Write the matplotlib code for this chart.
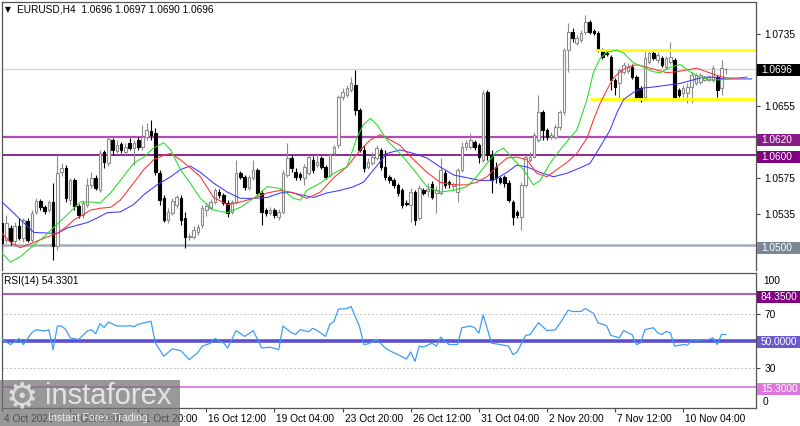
import numpy as np
import matplotlib
matplotlib.use('Agg')
import matplotlib.pyplot as plt
from matplotlib.transforms import blended_transform_factory, ScaledTranslation
from matplotlib.patches import Rectangle

plt.rcParams['font.family'] = ['Liberation Sans', 'DejaVu Sans']
FS = 7.3

# ---------------- data ----------------
opens = [1.0525,1.0506,1.0519,1.0504,1.0521,1.0508,1.0527,1.0506,1.0537,1.0549,
 1.0542,1.0539,1.0548,1.0499,1.0581,1.0586,1.0550,1.0572,1.0543,1.0533,
 1.0545,1.0567,1.0575,1.0561,1.0604,1.0591,1.0617,1.0605,1.0613,1.0604,
 1.0614,1.0608,1.0617,1.0609,1.0620,1.0627,1.0625,1.0580,1.0552,1.0528,
 1.0536,1.0545,1.0552,1.0530,1.0509,1.0509,1.0514,1.0522,1.0539,1.0541,
 1.0548,1.0559,1.0556,1.0547,1.0537,1.0548,1.0580,1.0576,1.0563,1.0575,
 1.0584,1.0558,1.0539,1.0536,1.0539,1.0531,1.0537,1.0578,1.0597,1.0581,
 1.0579,1.0575,1.0580,1.0595,1.0589,1.0597,1.0587,1.0578,1.0602,1.0611,
 1.0665,1.0667,1.0673,1.0678,1.0650,1.0606,1.0587,1.0591,1.0597,1.0606,
 1.0587,1.0576,1.0572,1.0567,1.0561,1.0547,1.0545,1.0559,1.0530,1.0561,
 1.0560,1.0568,1.0558,1.0558,1.0580,1.0570,1.0566,1.0559,1.0584,1.0609,
 1.0609,1.0615,1.0611,1.0595,1.0670,1.0600,1.0587,1.0575,1.0576,1.0569,
 1.0548,1.0537,1.0531,1.0567,1.0595,1.0598,1.0617,1.0648,1.0628,1.0620,
 1.0620,1.0631,1.0648,1.0717,1.0737,1.0725,1.0728,1.0737,1.0748,1.0738,
 1.0736,1.0717,1.0714,1.0709,1.0684,1.0680,1.0693,1.0694,1.0698,1.0687,
 1.0675,1.0665,1.0704,1.0714,1.0706,1.0708,1.0698,1.0704,1.0706,1.0673,
 1.0669,1.0669,1.0676,1.0680,1.0682,1.0684,1.0684,1.0684,1.0687,1.0675,
 1.0696]
highs = [1.0531,1.0533,1.0522,1.0526,1.0530,1.0530,1.0530,1.0539,1.0552,1.0551,
 1.0545,1.0550,1.0569,1.0600,1.0591,1.0589,1.0575,1.0575,1.0546,1.0550,
 1.0575,1.0581,1.0578,1.0606,1.0606,1.0620,1.0619,1.0617,1.0615,1.0614,
 1.0619,1.0617,1.0620,1.0634,1.0636,1.0639,1.0630,1.0584,1.0556,1.0541,
 1.0552,1.0556,1.0556,1.0537,1.0513,1.0521,1.0523,1.0545,1.0547,1.0551,
 1.0563,1.0562,1.0558,1.0550,1.0550,1.0595,1.0582,1.0578,1.0578,1.0595,
 1.0586,1.0561,1.0541,1.0542,1.0541,1.0540,1.0584,1.0614,1.0600,1.0586,
 1.0581,1.0590,1.0600,1.0599,1.0602,1.0599,1.0589,1.0602,1.0611,1.0667,
 1.0675,1.0678,1.0687,1.0695,1.0653,1.0611,1.0597,1.0604,1.0611,1.0608,
 1.0606,1.0578,1.0575,1.0569,1.0563,1.0550,1.0563,1.0561,1.0567,1.0563,
 1.0569,1.0571,1.0566,1.0597,1.0584,1.0572,1.0570,1.0586,1.0615,1.0617,
 1.0625,1.0617,1.0614,1.0673,1.0673,1.0606,1.0592,1.0577,1.0578,1.0572,
 1.0550,1.0539,1.0570,1.0600,1.0604,1.0626,1.0667,1.0650,1.0630,1.0626,
 1.0635,1.0650,1.0719,1.0747,1.0742,1.0734,1.0740,1.0756,1.0751,1.0741,
 1.0738,1.0719,1.0716,1.0712,1.0686,1.0697,1.0704,1.0703,1.0702,1.0689,
 1.0677,1.0717,1.0716,1.0716,1.0715,1.0711,1.0711,1.0726,1.0708,1.0675,
 1.0678,1.0680,1.0693,1.0692,1.0692,1.0688,1.0689,1.0701,1.0689,1.0706,
 1.0697]
lows = [1.0483,1.0502,1.0500,1.0501,1.0506,1.0503,1.0503,1.0503,1.0535,1.0539,
 1.0535,1.0537,1.0483,1.0494,1.0577,1.0548,1.0545,1.0539,1.0530,1.0530,
 1.0542,1.0563,1.0561,1.0559,1.0586,1.0588,1.0600,1.0602,1.0602,1.0600,
 1.0606,1.0589,1.0606,1.0606,1.0617,1.0617,1.0578,1.0545,1.0526,1.0525,
 1.0533,1.0541,1.0522,1.0497,1.0506,1.0507,1.0511,1.0519,1.0532,1.0539,
 1.0546,1.0552,1.0545,1.0531,1.0535,1.0546,1.0574,1.0561,1.0561,1.0572,
 1.0556,1.0522,1.0532,1.0533,1.0530,1.0528,1.0535,1.0576,1.0581,1.0572,
 1.0572,1.0567,1.0578,1.0580,1.0587,1.0585,1.0574,1.0576,1.0600,1.0608,
 1.0662,1.0665,1.0670,1.0645,1.0604,1.0581,1.0585,1.0589,1.0595,1.0584,
 1.0572,1.0569,1.0563,1.0555,1.0541,1.0543,1.0526,1.0522,1.0528,1.0556,
 1.0553,1.0551,1.0536,1.0556,1.0563,1.0563,1.0561,1.0548,1.0581,1.0606,
 1.0607,1.0606,1.0591,1.0592,1.0595,1.0558,1.0569,1.0568,1.0565,1.0548,
 1.0522,1.0530,1.0517,1.0565,1.0592,1.0597,1.0615,1.0617,1.0617,1.0618,
 1.0618,1.0628,1.0645,1.0693,1.0726,1.0723,1.0726,1.0735,1.0735,1.0734,
 1.0715,1.0707,1.0711,1.0673,1.0667,1.0664,1.0690,1.0692,1.0685,1.0662,
 1.0659,1.0663,1.0702,1.0706,1.0703,1.0698,1.0696,1.0702,1.0663,1.0665,
 1.0665,1.0658,1.0658,1.0678,1.0679,1.0683,1.0683,1.0682,1.0665,1.0667,
 1.0690]
closes = [1.0502,1.0525,1.0504,1.0521,1.0508,1.0528,1.0506,1.0536,1.0549,1.0542,
 1.0538,1.0548,1.0499,1.0580,1.0586,1.0552,1.0572,1.0543,1.0533,1.0547,
 1.0567,1.0575,1.0563,1.0602,1.0592,1.0618,1.0606,1.0611,1.0606,1.0609,
 1.0608,1.0614,1.0609,1.0620,1.0628,1.0623,1.0581,1.0550,1.0528,1.0537,
 1.0549,1.0553,1.0528,1.0509,1.0510,1.0517,1.0520,1.0541,1.0543,1.0548,
 1.0561,1.0556,1.0547,1.0536,1.0548,1.0580,1.0576,1.0565,1.0576,1.0584,
 1.0558,1.0537,1.0536,1.0539,1.0533,1.0537,1.0580,1.0597,1.0586,1.0576,
 1.0576,1.0587,1.0598,1.0584,1.0592,1.0587,1.0576,1.0600,1.0609,1.0665,
 1.0670,1.0675,1.0680,1.0650,1.0606,1.0586,1.0592,1.0598,1.0608,1.0587,
 1.0576,1.0572,1.0567,1.0558,1.0545,1.0546,1.0559,1.0528,1.0563,1.0558,
 1.0562,1.0553,1.0561,1.0584,1.0567,1.0568,1.0568,1.0584,1.0609,1.0614,
 1.0617,1.0609,1.0598,1.0669,1.0600,1.0572,1.0575,1.0570,1.0569,1.0550,
 1.0531,1.0533,1.0567,1.0598,1.0598,1.0623,1.0648,1.0628,1.0620,1.0623,
 1.0631,1.0648,1.0717,1.0737,1.0731,1.0731,1.0736,1.0748,1.0737,1.0736,
 1.0717,1.0709,1.0713,1.0684,1.0676,1.0695,1.0701,1.0698,1.0687,1.0665,
 1.0662,1.0708,1.0714,1.0708,1.0712,1.0701,1.0708,1.0709,1.0665,1.0667,
 1.0675,1.0676,1.0689,1.0689,1.0689,1.0686,1.0687,1.0697,1.0673,1.0697,
 1.0696]

# Alligator lines (bar position, price)
jaw_bar = [0,7.5,13,15.3,20,22.3,24.7,27.8,30.9,33.3,36.4,39.6,41.9,44.2,46.6,49.7,52.9,56,59.1,62.3,
 65.4,67.7,70.1,73.2,76.3,79.5,82.6,84.9,87.3,90.4,93.5,96.7,99.8,102.9,106.1,109.2,112.3,115.4,118.6,120.9,
 123.3,126.4,129.5,132.7,135.8,138.1,139.3,141.2,142.8,144.5,146,148.3,150.7,153,156.1,159.3,162.4,164.7,167.1,169.4,
 172.6,176.1]
jaw_px = [1.0548,1.0514,1.0513,1.0519,1.0525,1.0530,1.0536,1.0537,1.0545,1.0556,1.0567,1.0576,1.0584,1.0588,1.0581,1.0569,1.0559,1.0552,1.0552,1.0553,
 1.0558,1.0559,1.0556,1.0553,1.0558,1.0561,1.0565,1.0570,1.0584,1.0602,1.0606,1.0602,1.0597,1.0587,1.0578,1.0575,1.0572,1.0572,1.0581,1.0589,
 1.0587,1.0581,1.0576,1.0580,1.0586,1.0591,1.0600,1.0615,1.0628,1.0648,1.0662,1.0670,1.0675,1.0676,1.0678,1.0680,1.0684,1.0687,1.0687,1.0685,
 1.0685,1.0685]
teeth_bar = [0,2,4.3,7.5,10.6,13,15.3,16.9,18.4,20.8,23.1,25.5,27.8,30.9,33.3,35.6,38,39.6,41.9,44.2,
 46.6,49.7,52.9,56,59.1,62.3,65.4,68.5,71.6,74.8,77.9,81,84.2,86.5,88.8,91.2,93.5,96.7,99.8,102.9,
 106.1,109.2,111.5,113.9,116.2,118.6,120.9,123.3,125.6,128,130.3,132.7,135,137.4,138.9,140.5,142.1,143.6,145.2,146.8,
 149.1,151.5,153.8,156.1,158.5,160.8,163.2,165.5,167.9,170.2,172.6,175]
teeth_px = [1.0513,1.0503,1.0497,1.0503,1.0509,1.0513,1.0521,1.0528,1.0532,1.0539,1.0541,1.0542,1.0550,1.0569,1.0584,1.0595,1.0600,1.0602,1.0595,1.0586,
 1.0576,1.0553,1.0545,1.0548,1.0552,1.0558,1.0561,1.0558,1.0552,1.0559,1.0575,1.0587,1.0606,1.0617,1.0623,1.0617,1.0611,1.0595,1.0581,1.0570,
 1.0567,1.0567,1.0570,1.0576,1.0587,1.0597,1.0598,1.0595,1.0580,1.0576,1.0584,1.0592,1.0602,1.0619,1.0639,1.0658,1.0673,1.0686,1.0693,1.0698,
 1.0701,1.0698,1.0695,1.0692,1.0693,1.0695,1.0697,1.0693,1.0689,1.0686,1.0686,1.0687]
lips_bar = [0,2,4.3,7.5,9.8,12.2,14.5,16.9,18.4,20.8,23.1,25.5,27.8,30.9,33.3,35.6,38,39.6,41.9,44.2,
 46.6,49.7,52.9,56,59.1,62.3,65.4,68.5,70.1,71.6,74.8,77.9,81,83.4,84.9,86.5,88.1,90.4,93.5,96.7,
 99.8,102.9,106.1,109.2,111.5,113.9,116.2,117.8,120.2,122.5,124.8,126.4,128.7,131.1,133.5,135,137.4,138.9,140.5,142.1,
 144.4,146,148.3,150.7,153,154.6,156.9,159.3,161.6,164,166.3,168.7,171]
lips_px = [1.0491,1.0481,1.0487,1.0500,1.0509,1.0520,1.0530,1.0541,1.0548,1.0548,1.0547,1.0558,1.0572,1.0591,1.0598,1.0608,1.0614,1.0606,1.0584,1.0569,
 1.0552,1.0539,1.0536,1.0542,1.0552,1.0565,1.0563,1.0552,1.0550,1.0561,1.0569,1.0580,1.0587,1.0620,1.0634,1.0641,1.0634,1.0617,1.0602,1.0584,
 1.0565,1.0559,1.0561,1.0565,1.0576,1.0591,1.0604,1.0608,1.0595,1.0584,1.0567,1.0572,1.0591,1.0606,1.0620,1.0628,1.0662,1.0692,1.0708,1.0715,
 1.0717,1.0714,1.0703,1.0698,1.0693,1.0692,1.0698,1.0701,1.0693,1.0687,1.0684,1.0684,1.0685]

# RSI(14) readings (bar, value)
rsi_bar = [0,2,4,5,7,8,10,11,12,13,14,15,16,18,20,21,22,23,24,25,
 27,29,30,31,32,34,35,36,38,40,42,44,46,47,49,50,52,53,55,57,
 59,61,63,65,66,68,69,70,72,73,74,76,77,78,79,81,82,84,85,86,
 88,90,91,93,95,96,97,98,99,101,102,103,105,107,108,110,111,112,113,115,
 117,119,120,121,123,124,126,128,130,131,133,134,136,137,139,140,142,143,145,146,
 148,149,150,151,153,154,155,156,157,158,160,161,162,163,165,166,167,168,169,170]
rsi_val = [50.7,47,51.5,47,55.7,58,57,58,43,60.7,60.7,58,52,50.7,57,58,55,62.5,59.7,63.7,
 60.7,60.7,61,60.3,62,63.5,64.3,48.3,38.3,43.8,42.5,35.8,41,45.8,48,51.5,48.3,44.5,57.3,53,
 57.3,44.5,45,43.2,60.7,55.7,54.5,58,56.5,59,57.5,53,62,64.3,73.2,73.7,75.2,60,47,47.5,
 50.7,44.5,42.5,39.5,36.3,41.5,34.5,45.8,45.2,48,45.8,52.5,47,47,59.5,60.7,59.5,55.4,69,48,
 47,45.8,39.5,41.5,53.8,54.3,63.2,57.3,58,62.5,72.5,71.5,71.5,73.7,69.9,63,61,53.8,52,57.3,
 54.3,47,48.3,58,59.5,55.7,54.5,56.7,55.7,45.8,47,46.5,50.7,50,50.7,50.7,52,47,54.5,54.33]

# Levels
res_levels = [1.0620, 1.0600, 1.0500]
channel_top, channel_bot = 1.0717, 1.0663
channel_top_start, channel_bot_start = 139.3, 138.1
rsi_levels = [84.35, 50.0, 15.3]

tick_bars = [0, 16, 32, 48, 64, 80, 96, 112, 128, 144, 160]
tick_labels = ['4 Oct 2023', '9 Oct 04:00', '11 Oct 20:00', '16 Oct 12:00', '19 Oct 04:00',
               '23 Oct 20:00', '26 Oct 12:00', '31 Oct 04:00', '2 Nov 20:00', '7 Nov 12:00',
               '10 Nov 04:00']

# ---------------- figure ----------------
W, H = 800, 426
fig = plt.figure(figsize=(W/100, H/100), dpi=100, facecolor='white')

def rect(x0, y0, x1, y1):
    return [x0/W, 1 - y1/H, (x1 - x0)/W, (y1 - y0)/H]

ax = fig.add_axes(rect(2, 2, 756, 270))
rs = fig.add_axes(rect(2, 273, 756, 408), sharex=ax)

YLO, YHI = 1.04722, 1.07707
ax.set_xlim(0.12, 177.1)
ax.set_ylim(YLO, YHI)
rs.set_ylim(0, 100)
PPU_MAIN = 268 / (YHI - YLO)
PPU_RSI = 135 / 100.0

o = np.array(opens); h = np.array(highs); l = np.array(lows); c = np.array(closes)
x = np.arange(len(o))
bull = c >= o
bear = ~bull
GRAY = '#8c8c8c'
ax.vlines(x[bull], l[bull], h[bull], color=GRAY, lw=0.8, zorder=2)
ax.vlines(x[bear], l[bear], h[bear], color='black', lw=0.8, zorder=2)
bot = np.minimum(o, c)
ht = np.maximum(np.abs(c - o), 0.00002)
ax.bar(x[bull], ht[bull], bottom=bot[bull], width=0.6, facecolor='white',
       edgecolor=GRAY, linewidth=0.8, zorder=3)
ax.bar(x[bear], ht[bear], bottom=bot[bear], width=0.6, facecolor='black',
       edgecolor='black', linewidth=0.8, zorder=3)

# levels
ax.axhline(closes[-1], color='#d4d4d4', lw=0.9, zorder=1)
ax.axhline(res_levels[0], color='#b04cb4', lw=1.6, zorder=1.5)
ax.axhline(res_levels[1], color='#800080', lw=1.2, zorder=1.5)
ax.axhline(res_levels[2], color='#a3acb6', lw=1.8, zorder=1.5)
ax.hlines(channel_top, channel_top_start, 178, colors='#ffff00', lw=2.0, zorder=4)
ax.hlines(channel_bot, channel_bot_start, 178, colors='#ffff00', lw=2.0, zorder=4)

# alligator
ax.plot(jaw_bar, jaw_px, color='#3a3aff', lw=0.75, zorder=5)
ax.plot(teeth_bar, teeth_px, color='#ff3030', lw=0.75, zorder=5)
ax.plot(lips_bar, lips_px, color='#22dd22', lw=0.75, zorder=5)

# main axis styling
for a in (ax, rs):
    for s in a.spines.values():
        s.set_color('#555555'); s.set_linewidth(0.9)
    a.set_facecolor('white')
ax.spines['bottom'].set_visible(False)
ax.tick_params(axis='x', bottom=False, labelbottom=False)
ax.yaxis.tick_right()
yt = [1.0735, 1.0696, 1.0655, 1.0620, 1.0600, 1.0575, 1.0535, 1.0500]
ax.set_yticks(yt)
ax.set_yticklabels(['1.0735', '', '1.0655', '', '', '1.0575', '1.0535', ''])
ax.tick_params(axis='y', length=3, width=0.8, color='#444444', pad=3, labelsize=FS)

def value_box(axis, val, text, fc, ppu, dy_px=2.0, tc='white'):
    tr = blended_transform_factory(axis.transAxes, axis.transData)
    cy = val - dy_px / ppu
    hh = 12.0 / ppu
    axis.add_patch(Rectangle((1.0013, cy - hh/2), 0.058, hh, transform=tr, fc=fc,
                             ec='none', clip_on=False, zorder=6))
    axis.text(1.0013 + 4.0/754, cy, text, transform=tr, color=tc, va='center',
              ha='left', fontsize=FS, clip_on=False, zorder=7)

value_box(ax, closes[-1], '1.0696', '#000000', PPU_MAIN, dy_px=1)
value_box(ax, res_levels[0], '1.0620', '#8a1a8a', PPU_MAIN, dy_px=2.5)
value_box(ax, res_levels[1], '1.0600', '#800080', PPU_MAIN, dy_px=2)
value_box(ax, res_levels[2], '1.0500', '#7a8796', PPU_MAIN, dy_px=3)

# RSI panel
rs.plot(rsi_bar, rsi_val, color='#3d9df5', lw=0.9, zorder=5)
rs.axhline(rsi_levels[0], color='#b060c0', lw=1.5, zorder=2)
rs.axhline(rsi_levels[1], color='#5b4fd6', lw=2.6, zorder=2)
rs.axhline(rsi_levels[2], color='#e070e0', lw=1.2, zorder=2)
for lv in (70, 30):
    rs.axhline(lv, color='#c4c4c4', lw=0.7, ls=(0, (2, 2)), zorder=1)
rs.yaxis.tick_right()
rs.set_yticks([70, 30])
rs.set_yticklabels(['70', '30'])
rs.tick_params(axis='y', length=3, width=0.8, color='#444444', pad=3, labelsize=FS)
trr = blended_transform_factory(rs.transAxes, rs.transData)
rs.text(1.0013 + 6.0/754, 100 - 8/PPU_RSI, '100', transform=trr, va='center', ha='left', fontsize=FS)
rs.text(1.0013 + 6.0/754, 0 + 6/PPU_RSI, '0', transform=trr, va='center', ha='left', fontsize=FS)
value_box(rs, rsi_levels[0], '84.3500', '#800080', PPU_RSI, dy_px=3)
value_box(rs, rsi_levels[1], '50.0000', '#6a5acd', PPU_RSI, dy_px=1.5)
value_box(rs, rsi_levels[2], '15.3000', '#dc78dc', PPU_RSI, dy_px=2)

rs.set_xticks(tick_bars)
rs.set_xticklabels(tick_labels, ha='left')
rs.tick_params(axis='x', length=3, width=0.8, color='#444444', pad=1.5, labelsize=FS)
for lbl in rs.get_xticklabels():
    lbl.set_transform(lbl.get_transform() + ScaledTranslation(2/100, 0, fig.dpi_scale_trans))

# header texts
fig.text(5/W, 1 - 10/H, '\u25bc', fontsize=5.5, family='DejaVu Sans', va='center', ha='left')
fig.text(17/W, 1 - 10/H, 'EURUSD,H4  1.0696 1.0697 1.0690 1.0696', fontsize=FS, va='center', ha='left')
fig.text(4/W, 1 - 281.5/H, 'RSI(14) 54.3301', fontsize=FS, va='center', ha='left')

# watermark (semi-transparent overlay, as in the reference)
wm = Rectangle((0, 0), 180/W, 46/H, transform=fig.transFigure, fc='#707070', ec='none', alpha=0.72, zorder=20)
fig.add_artist(wm)
fig.text(6/W, 1 - 397/H, '\u2699', fontsize=26, family='DejaVu Sans', color='#dcdcdc', va='center', ha='left', zorder=21)
fig.text(45/W, 1 - 396/H, 'instaforex', fontsize=21, color='#e4e4e4', va='center', ha='left', zorder=21)
fig.text(48/W, 1 - 418/H, 'Instant Forex Trading', fontsize=7.6, color='#ececec', va='center', ha='left', zorder=21)

fig.savefig('out.png', dpi=100, facecolor='white')
